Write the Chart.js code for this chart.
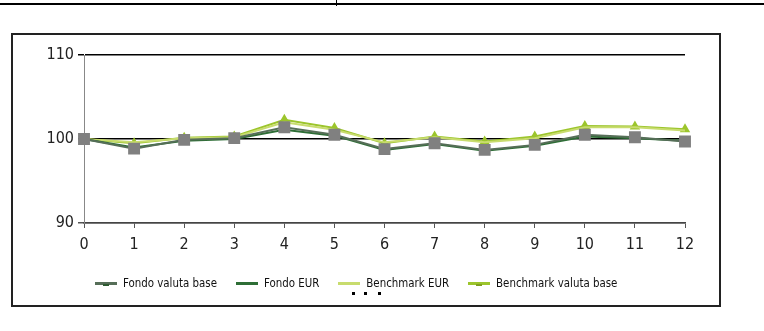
<!DOCTYPE html>
<html>
<head>
<meta charset="utf-8">
<script src="https://cdn.jsdelivr.net/npm/chart.js@4.4.0/dist/chart.umd.min.js"></script>
<style>
  body { margin: 0; background: #fff; width: 764px; height: 331px; position: relative; overflow: hidden; }
  #topline { position: absolute; left: 0; top: 3px; width: 764px; height: 2px; background: #000; }
  #topmark { position: absolute; left: 336px; top: 0; width: 1px; height: 6px; background: #000; }
  #box { position: absolute; left: 11px; top: 33px; width: 710px; height: 274px; border: 2px solid #222; box-sizing: border-box; }
  #wrap { position: absolute; left: 0; top: 0; width: 706px; height: 270px; }
  #legend { position: absolute; left: 95px; top: 276px; display: flex; align-items: center;
            font: 11.4px "Liberation Sans Narrow", "DejaVu Sans Condensed", sans-serif; color: #111; }
  .item { display: flex; align-items: center; margin-right: 19px; }
  .sample { position: relative; width: 22px; height: 3px; margin-right: 6px; }
  .nub { position: absolute; left: 8px; top: 2px; width: 6px; height: 2px; }
  .dot { position: absolute; top: 292px; width: 3px; height: 3px; background: #000; }
</style>
</head>
<body>
<div id="topline"></div>
<div id="topmark"></div>
<div id="box"><div id="wrap"><canvas id="grafica"></canvas></div></div>
<div id="legend"></div>
<div class="dot" style="left:352px"></div>
<div class="dot" style="left:364px"></div>
<div class="dot" style="left:378px"></div>
<script>
// Categories and series
const labels = ["0", "1", "2", "3", "4", "5", "6", "7", "8", "9", "10", "11", "12"];
const fondoValutaBase = [100.0, 98.85, 99.9, 100.1, 101.4, 100.5, 98.8, 99.5, 98.7, 99.3, 100.5, 100.2, 99.7];
const fondoEUR = [100.0, 99.0, 99.8, 100.0, 101.1, 100.4, 98.7, 99.4, 98.6, 99.2, 100.3, 100.1, 99.8];
const benchmarkEUR = [100.0, 99.6, 100.1, 100.2, 102.0, 101.1, 99.6, 100.2, 99.6, 100.1, 101.4, 101.4, 101.0];
const benchmarkValutaBase = [100.0, 99.5, 100.15, 100.3, 102.3, 101.3, 99.5, 100.3, 99.7, 100.3, 101.55, 101.5, 101.15];
const yTicks = [90, 100, 110];

const font = "'Liberation Sans Narrow', 'DejaVu Sans Condensed', sans-serif";

let ctx = document.getElementById('grafica');
let myChart = new Chart(ctx, {
    type: "line",
    data: {
        labels: labels,
        datasets: [{
            label: "Fondo valuta base",
            data: fondoValutaBase,
            borderColor: "#566e58",
            borderWidth: 2,
            pointStyle: "rect",
            pointRadius: 7,
            pointBackgroundColor: "#808080",
            pointBorderColor: "#808080",
            legendNub: "#2d5a30"
        }, {
            label: "Fondo EUR",
            data: fondoEUR,
            borderColor: "#2e6e36",
            borderWidth: 2,
            pointRadius: 0
        }, {
            label: "Benchmark EUR",
            data: benchmarkEUR,
            borderColor: "#c8dc6e",
            borderWidth: 2,
            pointRadius: 0
        }, {
            label: "Benchmark valuta base",
            data: benchmarkValutaBase,
            borderColor: "#9cc52c",
            borderWidth: 2,
            pointStyle: "triangle",
            pointRadius: 4,
            pointBackgroundColor: "#9cc52c",
            pointBorderColor: "#9cc52c",
            legendNub: "#7fa020"
        }]
    },
    options: {
        responsive: true,
        maintainAspectRatio: false,
        animation: false,
        layout: { padding: { top: 20, right: 34, left: 0, bottom: 0 } },
        plugins: { legend: { display: false }, tooltip: { enabled: false } },
        scales: {
            x: {
                afterFit: function (scale) { scale.height = 82; },
                grid: { drawOnChartArea: false, drawTicks: true, tickLength: 5, color: "#555" },
                border: { color: "#444", width: 1.5 },
                ticks: { color: "#222", padding: 7, maxRotation: 0, autoSkip: false, font: { family: font, size: 16 } }
            },
            y: {
                min: 90,
                max: 110,
                afterFit: function (scale) { scale.width = 71; },
                afterBuildTicks: function (scale) { scale.ticks = yTicks.map(v => ({ value: v })); },
                grid: {
                    color: (c) => (c.tick && c.tick.value === 90) ? "#555" : "#000",
                    lineWidth: 1.5,
                    tickLength: 6
                },
                border: { color: "#888", width: 1 },
                ticks: { color: "#222", padding: 4, font: { family: font, size: 16 } }
            }
        }
    }
});

// Legend built from the datasets
let legend = document.getElementById('legend');
myChart.data.datasets.forEach(function (ds) {
    let item = document.createElement('div');
    item.className = 'item';
    let sample = document.createElement('span');
    sample.className = 'sample';
    sample.style.background = ds.borderColor;
    if (ds.legendNub) {
        let nub = document.createElement('span');
        nub.className = 'nub';
        nub.style.background = ds.legendNub;
        sample.appendChild(nub);
    }
    let text = document.createElement('span');
    text.textContent = ds.label;
    item.appendChild(sample);
    item.appendChild(text);
    legend.appendChild(item);
});
</script>
</body>
</html>
